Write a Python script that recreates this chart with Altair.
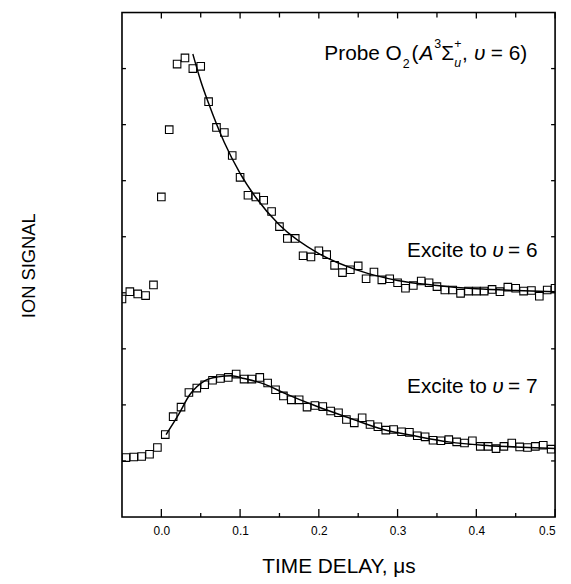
import altair as alt
import pandas as pd

# ---------------- data ----------------
t_upper = [-0.05, -0.04, -0.03, -0.02, -0.01, 0.00, 0.01, 0.02, 0.03, 0.04,
           0.05, 0.06, 0.07, 0.08, 0.09, 0.10, 0.11, 0.12, 0.13, 0.14,
           0.15, 0.16, 0.17, 0.18, 0.19, 0.20, 0.21, 0.22, 0.23, 0.24,
           0.25, 0.26, 0.27, 0.28, 0.29, 0.30, 0.31, 0.32, 0.33, 0.34,
           0.35, 0.36, 0.37, 0.38, 0.39, 0.40, 0.41, 0.42, 0.43, 0.44,
           0.45, 0.46, 0.47, 0.48, 0.49, 0.50]
s_upper = [3.89, 4.02, 3.98, 3.95, 4.14, 5.71, 6.91, 8.08, 8.19, 8.00,
           8.04, 7.41, 6.95, 6.86, 6.45, 6.06, 5.74, 5.71, 5.65, 5.45,
           5.18, 4.97, 4.97, 4.66, 4.64, 4.75, 4.68, 4.49, 4.36, 4.41,
           4.48, 4.25, 4.37, 4.23, 4.25, 4.18, 4.08, 4.13, 4.21, 4.18,
           4.11, 4.05, 4.05, 3.99, 4.03, 4.03, 4.03, 4.06, 4.02, 4.10,
           4.08, 4.03, 4.04, 3.94, 4.05, 4.08]

t_lower = [-0.045, -0.035, -0.025, -0.015, -0.005, 0.005, 0.015, 0.025, 0.035, 0.045,
           0.055, 0.065, 0.075, 0.085, 0.095, 0.105, 0.115, 0.125, 0.135, 0.145,
           0.155, 0.165, 0.175, 0.185, 0.195, 0.205, 0.215, 0.225, 0.235, 0.245,
           0.255, 0.265, 0.275, 0.285, 0.295, 0.305, 0.315, 0.325, 0.335, 0.345,
           0.355, 0.365, 0.375, 0.385, 0.395, 0.405, 0.415, 0.425, 0.435, 0.445,
           0.455, 0.465, 0.475, 0.485, 0.495]
s_lower = [1.06, 1.07, 1.08, 1.12, 1.24, 1.47, 1.79, 1.96, 2.22, 2.30,
           2.36, 2.44, 2.47, 2.49, 2.55, 2.46, 2.46, 2.49, 2.39, 2.27,
           2.16, 2.09, 2.09, 1.96, 1.99, 1.97, 1.89, 1.86, 1.74, 1.68,
           1.77, 1.65, 1.61, 1.55, 1.56, 1.52, 1.51, 1.45, 1.43, 1.37,
           1.36, 1.38, 1.34, 1.32, 1.36, 1.26, 1.26, 1.22, 1.26, 1.32,
           1.25, 1.24, 1.26, 1.28, 1.21]

fit_upper_t = [0.04, 0.05, 0.06, 0.08, 0.10, 0.12, 0.15, 0.20, 0.25, 0.30, 0.35, 0.40, 0.45, 0.50]
fit_upper_s = [8.26, 7.78, 7.38, 6.68, 6.13, 5.70, 5.21, 4.70, 4.40, 4.22, 4.13, 4.07, 4.04, 4.02]

fit_lower_t = [0.006, 0.022, 0.036, 0.055, 0.072, 0.089, 0.105, 0.131, 0.156, 0.198,
               0.240, 0.282, 0.324, 0.365, 0.408, 0.449, 0.500]
fit_lower_s = [1.47, 1.83, 2.18, 2.43, 2.50, 2.52, 2.47, 2.37, 2.21, 1.97,
               1.76, 1.56, 1.44, 1.34, 1.28, 1.25, 1.22]

major_x = [0.0, 0.1, 0.2, 0.3, 0.4, 0.5]
minor_x = [0.05, 0.15, 0.25, 0.35, 0.45]
y_ticks = [1, 2, 3, 4, 5, 6, 7, 8]

FONT = "Liberation Sans"
W, H = 437, 509

pts = pd.DataFrame({"t": t_upper + t_lower, "s": s_upper + s_lower,
                    "series": ["v6"] * len(t_upper) + ["v7"] * len(t_lower)})
fits = pd.DataFrame({"t": fit_upper_t + fit_lower_t, "s": fit_upper_s + fit_lower_s,
                     "series": ["v6"] * len(fit_upper_t) + ["v7"] * len(fit_lower_t)})

xs = alt.Scale(domain=[-0.05, 0.5], nice=False, zero=False)
ys = alt.Scale(domain=[0, 9], nice=False, zero=False)

xaxis = alt.Axis(values=major_x, format=".1f", ticks=False, tickSize=0, domain=False, grid=False,
                 labelFontSize=12, labelFont=FONT, labelBaseline="alphabetic", labelPadding=18,
                 labelColor="black", title="TIME DELAY, μs", titleFont=FONT, titleFontSize=21,
                 titleFontWeight="normal", titleColor="black", titleBaseline="alphabetic", titleY=56)
yaxis = alt.Axis(labels=False, ticks=False, domain=False, grid=False, title="ION SIGNAL",
                 titleFont=FONT, titleFontSize=18.5, titleFontWeight="normal", titleColor="black",
                 titleAngle=270, titleBaseline="middle", titleAlign="center", titleX=-94, titleY=255)

points = alt.Chart(pts).mark_point(shape="square", filled=False, color="black", size=58,
                                   strokeWidth=1.1, opacity=1, clip=True).encode(
    x=alt.X("t:Q", scale=xs, axis=xaxis),
    y=alt.Y("s:Q", scale=ys, axis=yaxis),
    detail="series:N")

lines = alt.Chart(fits).mark_line(color="black", strokeWidth=1.5, interpolate="monotone", clip=True).encode(
    x=alt.X("t:Q", scale=xs), y=alt.Y("s:Q", scale=ys), detail="series:N")

# frame
frame = alt.Chart(pd.DataFrame({"a": [0]})).mark_rect(fill=None, fillOpacity=0, stroke="black", strokeWidth=1.6).encode(
    x=alt.value(0), x2=alt.value(W), y=alt.value(0), y2=alt.value(H))

# inward ticks
mx = pd.DataFrame({"t": major_x})
nx = pd.DataFrame({"t": minor_x})
ty = pd.DataFrame({"v": y_ticks})
TC = dict(color="black", strokeWidth=1.3)
tick_layers = [
    alt.Chart(mx).mark_rule(**TC).encode(x=alt.X("t:Q", scale=xs), y=alt.value(H), y2=alt.value(H - 8)),
    alt.Chart(nx).mark_rule(**TC).encode(x=alt.X("t:Q", scale=xs), y=alt.value(H), y2=alt.value(H - 4)),
    alt.Chart(mx).mark_rule(**TC).encode(x=alt.X("t:Q", scale=xs), y=alt.value(0), y2=alt.value(6)),
    alt.Chart(nx).mark_rule(**TC).encode(x=alt.X("t:Q", scale=xs), y=alt.value(0), y2=alt.value(5)),
    alt.Chart(ty).mark_rule(**TC).encode(y=alt.Y("v:Q", scale=ys), x=alt.value(0), x2=alt.value(4)),
    alt.Chart(ty).mark_rule(**TC).encode(y=alt.Y("v:Q", scale=ys), x=alt.value(W), x2=alt.value(W - 4)),
]

def txt(text, ax, ay, dx=0, dy=0, size=21, style="normal"):
    return alt.Chart(pd.DataFrame({"a": [0]})).mark_text(
        text=text, font=FONT, fontSize=size, fontStyle=style, align="left", baseline="alphabetic",
        dx=dx, dy=dy, color="black").encode(x=alt.datum(ax, scale=xs), y=alt.datum(ay, scale=ys))

# annotation anchors (data coordinates)
PX, PY = 0.207, 8.15
E6X, E6Y = 0.312, 4.64
E7X, E7Y = 0.312, 2.21

texts = [
    txt("Probe O", PX, PY),
    txt("2", PX, PY, dx=79, dy=8, size=12.5),
    txt("(", PX, PY, dx=88),
    txt("A", PX, PY, dx=96, style="italic"),
    txt("3", PX, PY, dx=111, dy=-12, size=12.5),
    txt("Σ", PX, PY, dx=118),
    txt("+", PX, PY, dx=131, dy=-12, size=12.5),
    txt("u", PX, PY, dx=131, dy=7, size=12.5, style="italic"),
    txt(",", PX, PY, dx=139),
    txt("υ", PX, PY, dx=151, style="italic"),
    txt("= 6)", PX, PY, dx=168),
    txt("Excite to", E6X, E6Y),
    txt("υ", E6X, E6Y, dx=86, style="italic"),
    txt("= 6", E6X, E6Y, dx=102),
    txt("Excite to", E7X, E7Y),
    txt("υ", E7X, E7Y, dx=86, style="italic"),
    txt("= 7", E7X, E7Y, dx=102),
]

chart = alt.layer(points, lines, frame, *tick_layers, *texts).properties(
    width=W, height=H,
    autosize=alt.AutoSizeParams(type="none"),
    padding={"left": 115, "top": 2, "right": 8, "bottom": 60},
).configure_view(stroke=None).configure(font=FONT, background="white")

chart.save("out.html", embed_options={"renderer": "svg", "actions": False})
